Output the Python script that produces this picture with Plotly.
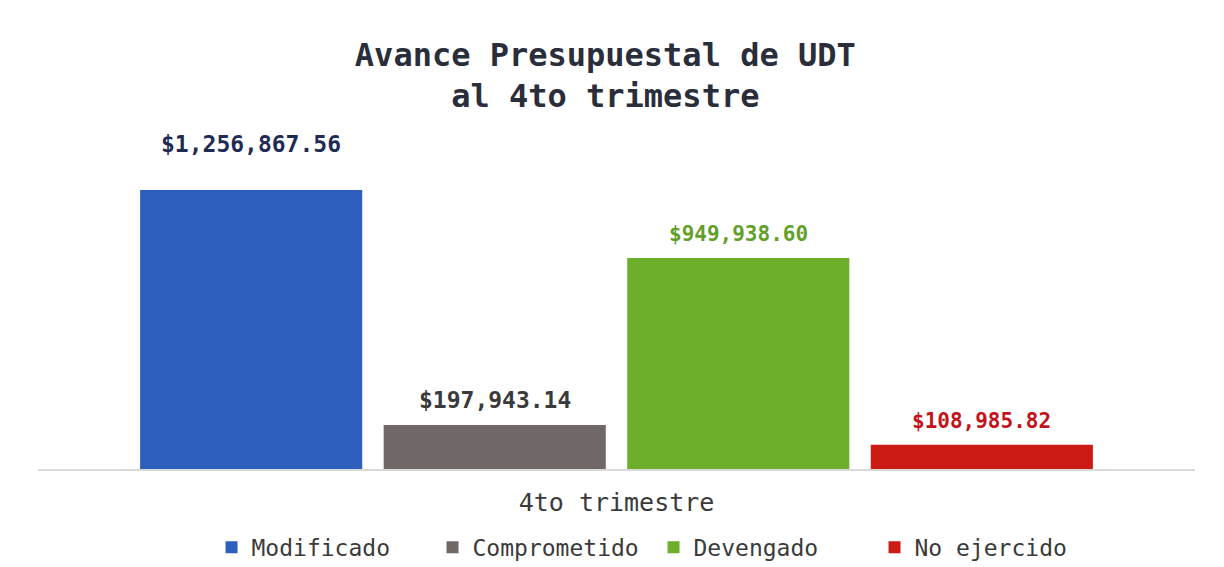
import plotly.graph_objects as go

CATEGORY = ["4to trimestre"]
SERIES = ["Modificado", "Comprometido", "Devengado", "No ejercido"]
VALUES = [1256867.56, 197943.14, 949938.60, 108985.82]

BAR_COLOR = ["#2f5fbe", "#706866", "#6daf2b", "#cc1a14"]
LABEL_COLOR = ["#1f2b55", "#3a3a3a", "#62a02a", "#c4121c"]
LABEL_SIZE = [23, 23, 21, 21]
LABEL_SHIFT = [31, 10, 10, 10]   # the top label sits higher in the original

FONT = "DejaVu Sans Mono"

fig = go.Figure()
for name, val, col in zip(SERIES, VALUES, BAR_COLOR):
    fig.add_trace(go.Bar(x=CATEGORY, y=[val], name=name, marker_color=col,
                         marker_line_width=0, hoverinfo="skip"))

# value labels as annotations so each one can be nudged
n = len(SERIES)
for i, (val, col, sz, sh) in enumerate(zip(VALUES, LABEL_COLOR, LABEL_SIZE, LABEL_SHIFT)):
    fig.add_annotation(x=CATEGORY[0], y=val, text=f"<b>${val:,.2f}</b>",
                       showarrow=False, yanchor="bottom", yshift=sh,
                       xshift=(i - (n - 1) / 2) * 243.5,
                       font=dict(family=FONT, size=sz, color=col))

# page body adds an 8px offset, margins below account for it
fig.update_layout(
    title=dict(text="<b>Avance Presupuestal de UDT<br>al 4to trimestre</b>",
               x=0.488, xanchor="center", y=0.898, yanchor="top",
               font=dict(family=FONT, size=32, color="#2a2d3a")),
    width=1224, height=567,
    margin=dict(l=30, r=37, t=122, b=106, autoexpand=False),
    barmode="group", bargap=0.158, bargroupgap=0.088,
    plot_bgcolor="white", paper_bgcolor="white",
    font=dict(family=FONT, color="#3a3a3a"),
    xaxis=dict(showline=True, linecolor="#d9d9d9", linewidth=1.5,
               ticks="", automargin=False, ticklabelstandoff=10,
               tickfont=dict(family=FONT, size=25, color="#3a3a3a")),
    yaxis=dict(visible=False, range=[0, 1527000], automargin=False),
    legend=dict(orientation="h", x=0.532, xanchor="center",
                y=0.049, yanchor="middle", yref="container",
                font=dict(family=FONT, size=23, color="#3a3a3a"),
                itemwidth=30, entrywidth=176, entrywidthmode="pixels",
                traceorder="normal"),
    showlegend=True,
    hovermode=False,
)

fig.write_html("out.html")
